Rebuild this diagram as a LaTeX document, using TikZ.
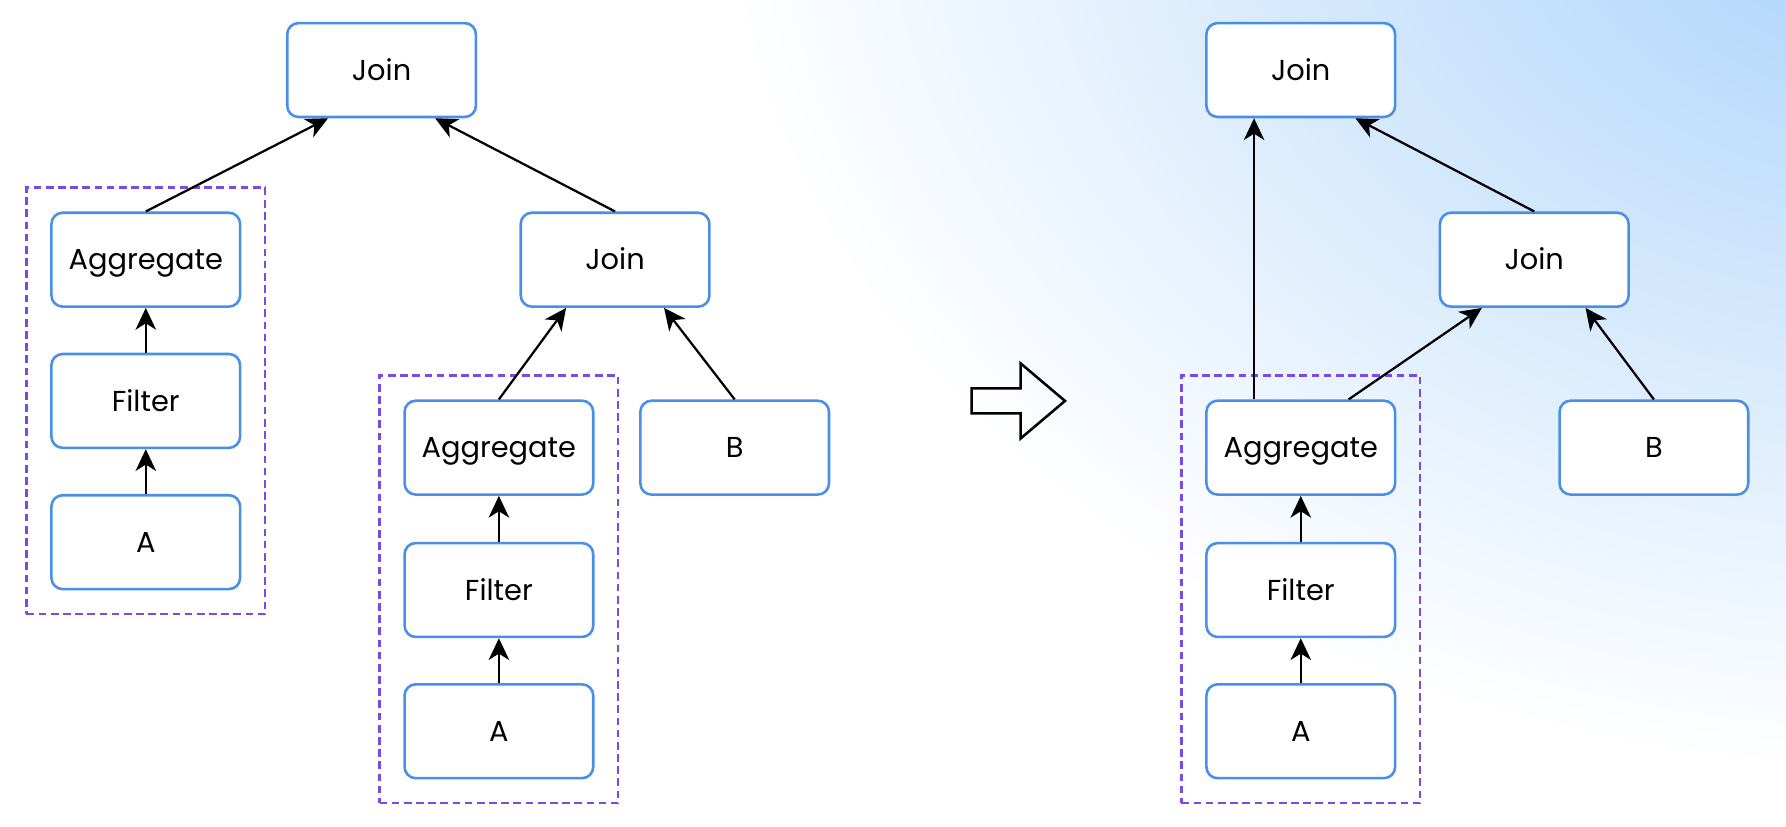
\documentclass[tikz,border=0pt]{standalone}
\usepackage{fontspec}
\setmainfont{Poppins}
\usetikzlibrary{calc,fit,arrows.meta}
\definecolor{boxblue}{HTML}{4A8FE7}
\definecolor{groupviolet}{HTML}{7B4AE2}
\definecolor{skyblue}{HTML}{A6D0FA}
\tikzstyle{opnode}=[draw=boxblue,line width=0.8pt,fill=white,rounded corners=3.5pt,minimum width=2.07cm,minimum height=1.03cm,inner sep=0pt,text height=6.3pt,text depth=0pt,font=\fontsize{9}{11}\selectfont]
\tikzstyle{group}=[draw=groupviolet,line width=0.8pt,dash pattern=on 2.4pt off 1.4pt,inner sep=0.26cm]
\tikzstyle{flow}=[-{Stealth[length=6.8pt,width=6.4pt,inset=2pt]},line width=0.7pt]
\begin{document}
\begin{tikzpicture}[x=0.0125cm,y=-0.0125cm]
	\useasboundingbox (0,0) rectangle (1568,726);
	% background
	\fill[white] (0,0) rectangle (1568,726);
	\begin{scope}
		\clip (0,0) rectangle (1568,726);
		\shade[inner color=skyblue,outer color=white] (1680,-120) ellipse (1050 and 800);
	\end{scope}
	% plan before
	\node[opnode] (join1) at (335,61.5) {Join};
	\node[opnode] (agg1) at (128,228) {Aggregate};
	\node[opnode] (filter1) at (128,352) {Filter};
	\node[opnode] (a1) at (128,476) {A};
	\node[opnode] (join2) at (540,228) {Join};
	\node[opnode] (agg2) at (438,393) {Aggregate};
	\node[opnode] (filter2) at (438,518) {Filter};
	\node[opnode] (a2) at (438,642) {A};
	\node[opnode] (b1) at (645,393) {B};
	\node[group,fit=(agg1)(a1)] (grp1) {};
	\node[group,fit=(agg2)(a2)] (grp2) {};
	\draw[flow] (agg1.north) -- ($(join1.south)+(-47,0)$);
	\draw[flow] (join2.north) -- ($(join1.south)+(47,0)$);
	\draw[flow] (agg2.north) -- ($(join2.south)+(-43,0)$);
	\draw[flow] (b1.north) -- ($(join2.south)+(43,0)$);
	% rewrite
	\draw[line width=0.8pt] (853,341) -- (896,341) -- (896,319) -- (935,352) -- (896,385) -- (896,363) -- (853,363) -- cycle;
	% plan after
	\node[opnode] (join3) at (1142,61.5) {Join};
	\node[opnode] (join4) at (1347,228) {Join};
	\node[opnode] (agg3) at (1142,393) {Aggregate};
	\node[opnode] (filter3) at (1142,518) {Filter};
	\node[opnode] (a3) at (1142,642) {A};
	\node[opnode] (b2) at (1452,393) {B};
	\node[group,fit=(agg3)(a3)] (grp3) {};
	\draw[flow] ($(agg3.north)+(-41,0)$) -- ($(join3.south)+(-41,0)$);
	\draw[flow] ($(agg3.north)+(42,0)$) -- ($(join4.south)+(-46,0)$);
	\draw[flow] (join4.north) -- ($(join3.south)+(48,0)$);
	\draw[flow] (b2.north) -- ($(join4.south)+(45,0)$);
	\foreach \from/\to in {a1/filter1,filter1/agg1,a2/filter2,filter2/agg2,a3/filter3,filter3/agg3}
		\draw[flow] (\from.north) -- (\to.south);
\end{tikzpicture}
\end{document}
